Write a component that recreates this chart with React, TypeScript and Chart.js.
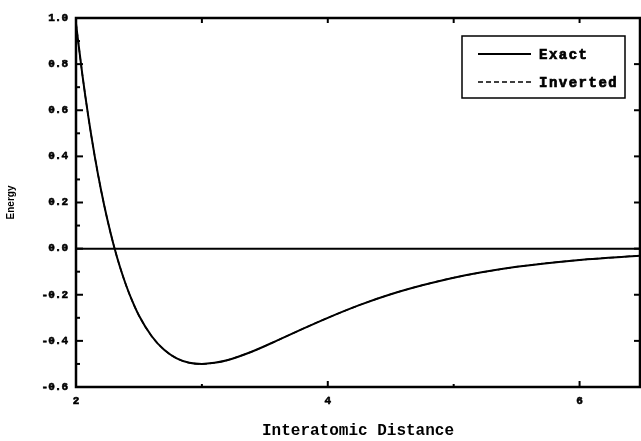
import { useEffect, useRef } from "react";
import { Chart, registerables } from "chart.js";

Chart.register(...registerables);

// Interatomic distance (x) and energy values
const distance = [2.0, 2.05, 2.1, 2.15, 2.2, 2.25, 2.3, 2.35, 2.4, 2.45, 2.5, 2.6, 2.7, 2.8, 2.9, 3.0, 3.1, 3.2, 3.4, 3.6, 3.8, 4.0, 4.25, 4.5, 4.75, 5.0, 5.5, 6.0, 6.5];
const exactEnergy = [0.976, 0.757, 0.565, 0.397, 0.251, 0.124, 0.014, -0.081, -0.162, -0.231, -0.29, -0.379, -0.439, -0.476, -0.495, -0.5, -0.495, -0.484, -0.446, -0.398, -0.348, -0.3, -0.245, -0.198, -0.159, -0.126, -0.079, -0.049, -0.03];
const invertedEnergy = [0.976, 0.757, 0.565, 0.397, 0.251, 0.124, 0.014, -0.081, -0.162, -0.231, -0.29, -0.379, -0.439, -0.476, -0.495, -0.5, -0.495, -0.484, -0.446, -0.398, -0.348, -0.3, -0.245, -0.198, -0.159, -0.126, -0.079, -0.049, -0.03];

const xMajorTicks = [2, 4, 6];
const xMinorTicks = [3, 5];
const xTopTicks = [3, 4, 5, 6];
const yMajorTicks = [-0.6, -0.4, -0.2, 0.0, 0.2, 0.4, 0.6, 0.8, 1.0];
const yMinorTicks = [-0.5, -0.3, -0.1, 0.1, 0.3, 0.5, 0.7, 0.9];

const seriesLabels = ["Exact", "Inverted"];
const xTitle = "Interatomic Distance";
const yTitle = "Energy";

const MONO = "'Liberation Mono', 'DejaVu Sans Mono', monospace";

const framePlugin = {
  id: "frame",
  afterDatasetsDraw(chart: any) {
    const { ctx, chartArea: a, scales } = chart;
    const xs = scales.x;
    const ys = scales.y;
    ctx.save();
    ctx.strokeStyle = "#000";
    ctx.fillStyle = "#000";

    const seg = (x1: number, y1: number, x2: number, y2: number) => {
      ctx.beginPath();
      ctx.moveTo(x1, y1);
      ctx.lineTo(x2, y2);
      ctx.stroke();
    };

    // zero line
    ctx.lineWidth = 2;
    const y0 = ys.getPixelForValue(0);
    seg(a.left, y0, a.right, y0);

    // frame
    ctx.lineWidth = 2.5;
    ctx.strokeRect(a.left, a.top, a.right - a.left, a.bottom - a.top);

    // inward ticks
    ctx.lineWidth = 2;
    yMajorTicks.forEach((v) => {
      const p = ys.getPixelForValue(v);
      seg(a.left, p, a.left + 7, p);
      seg(a.right, p, a.right - 6, p);
    });
    yMinorTicks.forEach((v) => {
      const p = ys.getPixelForValue(v);
      seg(a.left, p, a.left + 4, p);
    });
    xMajorTicks.forEach((v) => {
      const p = xs.getPixelForValue(v);
      seg(p, a.bottom, p, a.bottom - 6);
    });
    xMinorTicks.forEach((v) => {
      const p = xs.getPixelForValue(v);
      seg(p, a.bottom, p, a.bottom - 3);
    });
    xTopTicks.forEach((v) => {
      const p = xs.getPixelForValue(v);
      seg(p, a.top, p, a.top + 5);
    });

    // legend
    const lx = a.right - 178;
    const ly = a.top + 18;
    ctx.lineWidth = 1.5;
    ctx.strokeRect(lx, ly, 163, 62);
    const rows = [ly + 18, ly + 46];
    chart.data.datasets.forEach((ds: any, i: number) => {
      ctx.lineWidth = ds.borderWidth;
      ctx.setLineDash(ds.borderDash || []);
      seg(lx + 16, rows[i], lx + 69, rows[i]);
      ctx.setLineDash([]);
      ctx.font = `bold 14px ${MONO}`;
      (ctx as any).letterSpacing = "1.5px";
      ctx.textBaseline = "middle";
      ctx.textAlign = "left";
      ctx.lineWidth = 0.7;
      ctx.fillText(ds.label, lx + 77, rows[i] + 1);
      ctx.strokeText(ds.label, lx + 77, rows[i] + 1);
    });
    ctx.restore();
  },
};

export default function App() {
  const ref = useRef<HTMLCanvasElement>(null);

  useEffect(() => {
    if (!ref.current) return;
    const chart = new Chart(ref.current, {
      type: "line",
      data: {
        datasets: [
          {
            label: seriesLabels[0],
            data: distance.map((d, i) => ({ x: d, y: exactEnergy[i] })),
            borderColor: "#000",
            borderWidth: 2,
            pointRadius: 0,
            cubicInterpolationMode: "monotone",
            order: 1,
          },
          {
            label: seriesLabels[1],
            data: distance.map((d, i) => ({ x: d, y: invertedEnergy[i] })),
            borderColor: "#000",
            borderWidth: 1.5,
            borderDash: [5, 3],
            pointRadius: 0,
            cubicInterpolationMode: "monotone",
            order: 2,
          },
        ],
      },
      options: {
        animation: false,
        responsive: false,
        devicePixelRatio: 1,
        layout: { padding: { top: 18, right: 1, bottom: 0, left: 0 } },
        plugins: { legend: { display: false }, tooltip: { enabled: false } },
        scales: {
          x: {
            type: "linear",
            min: 2,
            max: 6.48,
            grid: { display: false, drawTicks: false },
            border: { display: false },
            afterBuildTicks: (s: any) => {
              s.ticks = xMajorTicks.map((v) => ({ value: v }));
            },
            afterFit: (s: any) => {
              s.height = 54;
            },
            ticks: {
              padding: 8,
              color: "#000",
              maxRotation: 0,
              textStrokeColor: "#000",
              textStrokeWidth: 0.6,
              font: { family: MONO, size: 11, weight: "bold" },
              callback: (v: any) => String(v),
            },
            title: {
              display: true,
              text: xTitle,
              color: "#000",
              font: { family: MONO, size: 16, weight: "bold" },
              padding: { top: 0, bottom: 0 },
            },
          },
          y: {
            type: "linear",
            min: -0.6,
            max: 1.0,
            grid: { display: false, drawTicks: false },
            border: { display: false },
            afterBuildTicks: (s: any) => {
              s.ticks = yMajorTicks.map((v) => ({ value: v }));
            },
            afterFit: (s: any) => {
              s.width = 76;
            },
            ticks: {
              padding: 8,
              color: "#000",
              textStrokeColor: "#000",
              textStrokeWidth: 0.6,
              font: { family: MONO, size: 11, weight: "bold" },
              callback: (v: any) => Number(v).toFixed(1),
            },
            title: {
              display: true,
              text: yTitle,
              color: "#000",
              font: { family: "'Liberation Sans', Arial, sans-serif", size: 10, weight: "bold" },
              padding: { top: 5, bottom: 0 },
            },
          },
        },
      },
      plugins: [framePlugin],
    } as any);
    return () => chart.destroy();
  }, []);

  return (
    <div style={{ position: "fixed", left: 0, top: 0, width: 641, height: 441, background: "#fff" }}>
      <canvas ref={ref} width={641} height={441} style={{ display: "block" }} />
    </div>
  );
}
